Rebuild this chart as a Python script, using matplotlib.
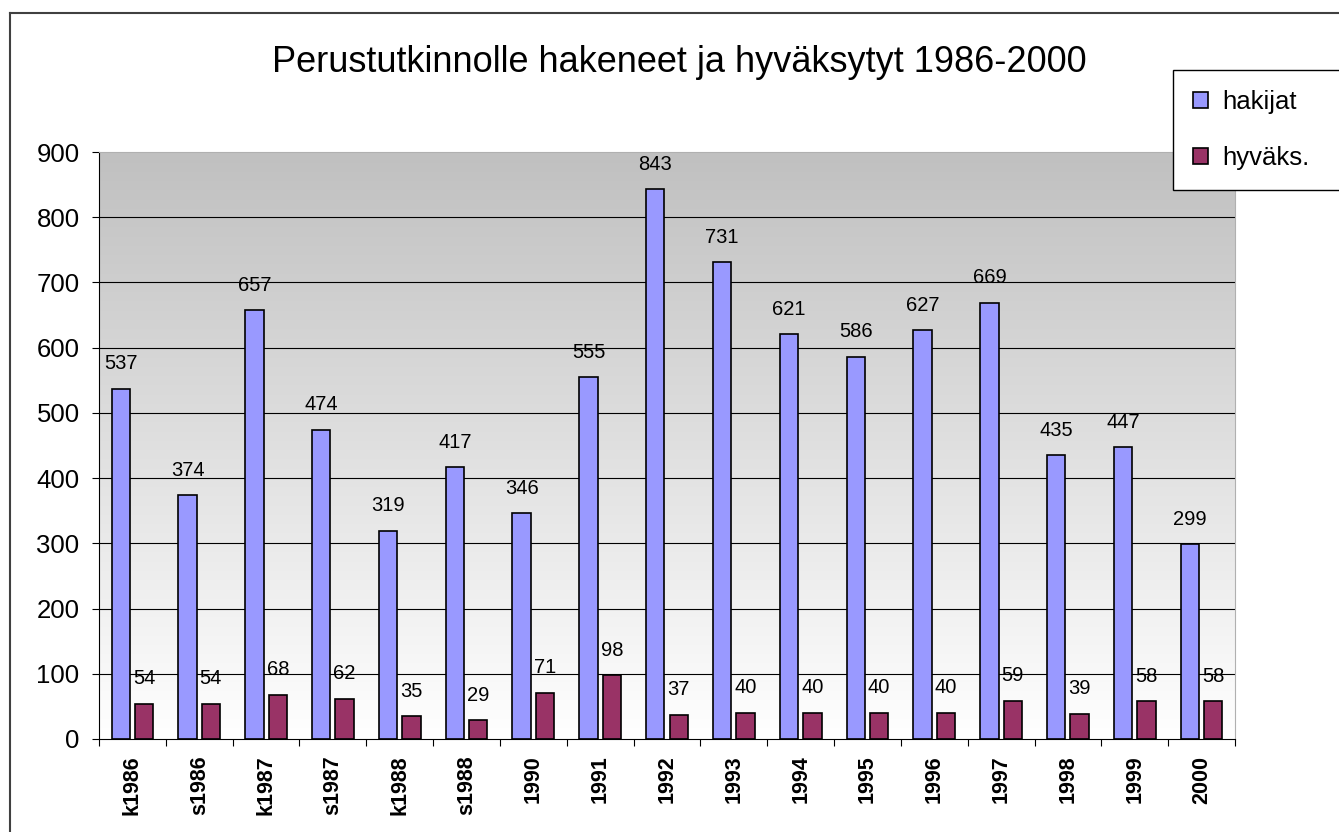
import matplotlib
matplotlib.use("Agg")
import matplotlib.pyplot as plt
import numpy as np
from matplotlib.lines import Line2D
from matplotlib.patches import Patch
from matplotlib.colors import LinearSegmentedColormap

categories = ["k1986", "s1986", "k1987", "s1987", "k1988", "s1988", "1990", "1991",
              "1992", "1993", "1994", "1995", "1996", "1997", "1998", "1999", "2000"]
hakijat = [537, 374, 657, 474, 319, 417, 346, 555, 843, 731, 621, 586, 627, 669, 435, 447, 299]
hyvaks = [54, 54, 68, 62, 35, 29, 71, 98, 37, 40, 40, 40, 40, 59, 39, 58, 58]
series_names = ["hakijat", "hyväks."]
title = "Perustutkinnolle hakeneet ja hyväksytyt 1986-2000"

plt.rcParams['font.family'] = ['Liberation Sans', 'DejaVu Sans']

W, H = 1339, 832
fig = plt.figure(figsize=(W / 100, H / 100), dpi=100)
L, R, T, B = 99, 1235, 152, 739
ax = fig.add_axes([L / W, (H - B) / H, (R - L) / W, (B - T) / H])

n = len(categories)
x = np.arange(n)
ax.set_xlim(-0.5, n - 0.5)
ax.set_ylim(0, 900)

# gradient background
grad = np.linspace(1.0, 0.0, 256).reshape(-1, 1)
cmap = LinearSegmentedColormap.from_list("g", ["#ffffff", "#c0c0c0"])
ax.imshow(grad, extent=(-0.5, n - 0.5, 0, 900), aspect='auto', cmap=cmap,
          vmin=0, vmax=1, zorder=0, origin='upper')

for yv in range(100, 900, 100):
    ax.axhline(yv, color='black', lw=0.8, zorder=1)

bw = 0.275
off = 0.175
ax.bar(x - off, hakijat, width=bw, color='#9999ff', edgecolor='black', lw=1.2, zorder=2)
ax.bar(x + off, hyvaks, width=bw, color='#993366', edgecolor='black', lw=1.2, zorder=2)

for xi, v in zip(x, hakijat):
    ax.annotate(str(v), (xi - off, v), xytext=(0, 14), textcoords='offset points',
                ha='center', va='baseline', fontsize=14.5, zorder=3)
for xi, v in zip(x, hyvaks):
    ax.annotate(str(v), (xi + off, v), xytext=(0, 14), textcoords='offset points',
                ha='center', va='baseline', fontsize=14.5, zorder=3)

ax.set_yticks(range(0, 901, 100))
ax.tick_params(axis='y', direction='out', length=5, width=0.8, labelsize=18.5, pad=9)
ax.set_xticks(x)
ax.set_xticklabels(categories, rotation=90, fontweight='bold', fontsize=15.5)
ax.tick_params(axis='x', which='major', length=0, pad=12)
ax.set_xticks(np.arange(-0.5, n, 1.0), minor=True)
ax.tick_params(axis='x', which='minor', direction='out', length=5, width=0.8)

for s in ['left', 'bottom']:
    ax.spines[s].set_color('black')
    ax.spines[s].set_linewidth(0.8)
for s in ['right', 'top']:
    ax.spines[s].set_color('#b0b0b0')
    ax.spines[s].set_linewidth(0.8)

fig.text(679 / W, 1 - 62 / H, title, ha='center', va='center', fontsize=26)

# outer frame (left & top visible)
fig.add_artist(Line2D([10 / W, 10 / W], [0, 1 - 13 / H], transform=fig.transFigure,
                      color='#404040', lw=1.5))
fig.add_artist(Line2D([10 / W, 1], [1 - 13 / H, 1 - 13 / H], transform=fig.transFigure,
                      color='#404040', lw=1.5))

handles = [Patch(facecolor='#9999ff', edgecolor='black', lw=1.2),
           Patch(facecolor='#993366', edgecolor='black', lw=1.2)]
leg = fig.legend(handles, series_names, loc='upper left',
                 bbox_to_anchor=(1173 / W, 1 - 187 / H, (1360 - 1173) / W, 117 / H),
                 mode='expand', fontsize=18.5,
                 frameon=True, fancybox=False, edgecolor='black', framealpha=1,
                 handlelength=0.58, handleheight=0.58, handletextpad=0.55,
                 labelspacing=1.25, borderpad=0.78, borderaxespad=0)
leg.get_frame().set_linewidth(1.0)

fig.savefig("out.png", dpi=100)
